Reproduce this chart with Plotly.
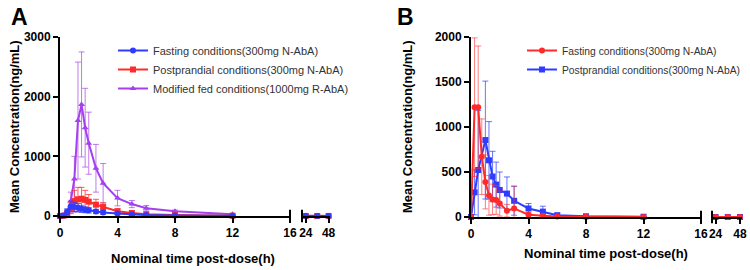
import plotly.graph_objects as go

# ---------------- data ----------------
# Panel A
tA = [0, 0.25, 0.5, 0.75, 1, 1.25, 1.5, 1.75, 2, 2.5, 3, 4, 5, 6, 8, 12, 24, 36, 48]
fastA_mean = [0, 10, 70, 160, 150, 140, 120, 105, 95, 75, 60, 40, 25, 15, 8, 3, 1, 1, 1]
fastA_sd   = [0, 10, 50, 90, 80, 70, 60, 50, 45, 35, 30, 20, 15, 10, 5, 2, 1, 1, 1]
postA_mean = [0, 5, 40, 130, 250, 280, 290, 270, 240, 190, 150, 80, 50, 30, 15, 5, 1, 1, 1]
postA_sd   = [0, 5, 40, 90, 180, 200, 190, 160, 120, 90, 70, 40, 25, 15, 8, 3, 1, 1, 1]
modA_mean  = [0, 10, 60, 250, 620, 1600, 1870, 1480, 1220, 800, 550, 300, 200, 130, 80, 30, 5, 2, 1]
modA_sd    = [0, 10, 50, 150, 380, 980, 880, 660, 520, 400, 330, 130, 60, 45, 20, 10, 3, 1, 1]

# Panel B
tB_red = [0, 0.25, 0.5, 0.75, 1, 1.25, 1.5, 1.75, 2, 2.5, 3, 4, 5, 6, 8, 12, 24, 36, 48]
fastB_mean = [0, 1220, 1220, 670, 390, 240, 195, 190, 150, 70, 95, 25, 15, 5, 3, 1, 0, 0, 0]
fastB_sd   = [0, 770, 680, 420, 300, 220, 170, 160, 140, 70, 250, 30, 20, 8, 3, 1, 0, 0, 0]
tB_blue = [0, 0.25, 0.5, 1, 1.25, 1.5, 1.75, 2, 2.5, 3, 4, 5, 6, 8, 12, 24, 36, 48]
postB_mean = [0, 274, 522, 855, 630, 450, 360, 300, 260, 180, 95, 60, 20, 8, 3, 0, 0, 0]
postB_sd   = [0, 250, 660, 655, 430, 280, 250, 200, 185, 160, 55, 60, 20, 8, 3, 0, 0, 0]

yticksA = [0, 1000, 2000, 3000]
yticksB = [0, 500, 1000, 1500, 2000]
xticks1 = [0, 4, 8, 12, 16]
xticks2 = [24, 48]

BLUE = "#2f3cff"
RED = "#ff2a2a"
PURPLE = "#a63ff0"

W, H = 750, 270
def px(x):
    return x / W
def py(y):
    return 1 - y / H

fig = go.Figure()

def add_series(t, m, s, color, err_color, symbol, name, xa, xb, ya, legend):
    lo = [(ti, mi, si) for ti, mi, si in zip(t, m, s) if ti <= 16]
    hi = [(ti, mi, si) for ti, mi, si in zip(t, m, s) if ti > 16]
    for part, xaxis, show in ((lo, xa, True), (hi, xb, False)):
        fig.add_trace(go.Scatter(
            x=[p[0] for p in part], y=[p[1] for p in part],
            xaxis=xaxis, yaxis=ya, mode="lines+markers", name=name,
            legend=legend, showlegend=show, legendgroup=name,
            line=dict(color=color, width=2),
            marker=dict(color=color, symbol=symbol, size=6),
            error_y=dict(type="data", array=[p[2] for p in part], visible=True,
                         color=err_color, thickness=1, width=3),
            cliponaxis=False,
        ))

add_series(tA, modA_mean, modA_sd, PURPLE, "rgba(170,80,230,0.75)", "triangle-up",
           "Modified fed conditions(1000mg R-AbA)", "x", "x2", "y", "legend")
add_series(tA, postA_mean, postA_sd, RED, "rgba(255,40,40,0.75)", "square",
           "Postprandial conditions(300mg N-AbA)", "x", "x2", "y", "legend")
add_series(tA, fastA_mean, fastA_sd, BLUE, "rgba(40,60,255,0.75)", "circle",
           "Fasting conditions(300mg N-AbA)", "x", "x2", "y", "legend")

add_series(tB_blue, postB_mean, postB_sd, BLUE, "rgba(40,60,255,0.7)", "square",
           "Postprandial conditions(300mg N-AbA)", "x3", "x4", "y2", "legend2")
add_series(tB_red, fastB_mean, fastB_sd, RED, "rgba(255,40,40,0.6)", "circle",
           "Fasting conditions(300mg N-AbA)", "x3", "x4", "y2", "legend2")

tickfont = dict(family="Liberation Sans, Arial, sans-serif", size=12, color="black",
                weight="bold")
axis_common = dict(showline=True, linecolor="black", linewidth=2, ticks="outside",
                   ticklen=5, tickwidth=2, tickcolor="black", showgrid=False,
                   zeroline=False, tickfont=tickfont, automargin=False)

fig.update_layout(
    width=W, height=H, margin=dict(l=0, r=0, t=0, b=0, autoexpand=False),
    paper_bgcolor="white", plot_bgcolor="white",
    font=dict(family="Liberation Sans, Arial, sans-serif"),
    xaxis=dict(domain=[px(60), px(290)], range=[0, 16], tickvals=xticks1,
               ticktext=[str(v) for v in xticks1], anchor="y", **axis_common),
    xaxis2=dict(domain=[px(302), px(330)], range=[20, 49.5], tickvals=xticks2,
                ticktext=[str(v) for v in xticks2], anchor="y", **axis_common),
    yaxis=dict(domain=[py(216), py(37)], range=[0, 3000], tickvals=yticksA,
               ticktext=[str(v) for v in yticksA], anchor="x", **axis_common),
    xaxis3=dict(domain=[px(471), px(701)], range=[0, 16], tickvals=xticks1,
                ticktext=[str(v) for v in xticks1], anchor="y2", **axis_common),
    xaxis4=dict(domain=[px(712), px(742)], range=[20.5, 50], tickvals=xticks2,
                ticktext=[str(v) for v in xticks2], anchor="y2", **axis_common),
    yaxis2=dict(domain=[py(217), py(37)], range=[0, 2000], tickvals=yticksB,
                ticktext=[str(v) for v in yticksB], anchor="x3", **axis_common),
    legend=dict(x=px(113), y=py(36), xanchor="left", yanchor="top",
                traceorder="reversed", bgcolor="rgba(0,0,0,0)",
                font=dict(size=11, color="#333333"), itemwidth=30),
    legend2=dict(x=px(522), y=py(36), xanchor="left", yanchor="top",
                 traceorder="reversed", bgcolor="rgba(0,0,0,0)",
                 font=dict(size=10.3, color="#333333"), itemwidth=30),
)

# axis break marks
for xa, ya, xv in (("x", "y", 1), ("x2", "y", 0), ("x3", "y2", 1), ("x4", "y2", 0)):
    fig.add_shape(type="line", xref=f"{xa} domain", yref=f"{ya} domain",
                  x0=xv, x1=xv, y0=-0.035, y1=0.035,
                  line=dict(color="black", width=2))

title_font = dict(family="Liberation Sans, Arial, sans-serif", size=13, color="black")
ann = [
    dict(x=px(19), y=py(17), text="<b>A</b>", font=dict(size=23, color="black")),
    dict(x=px(405), y=py(17), text="<b>B</b>", font=dict(size=23, color="black")),
    dict(x=px(193), y=py(258), text="<b>Nominal time post-dose(h)</b>", font=title_font),
    dict(x=px(606), y=py(253), text="<b>Nominal time post-dose(h)</b>", font=title_font),
    dict(x=px(15), y=py(127), text="<b>Mean Concentration(ng/mL)</b>", font=title_font, textangle=-90),
    dict(x=px(408), y=py(127), text="<b>Mean Concentration(ng/mL)</b>", font=title_font, textangle=-90),
]
for a in ann:
    fig.add_annotation(xref="paper", yref="paper", showarrow=False,
                       xanchor="center", yanchor="middle", **a)

fig.write_html("out.html", config={"displayModeBar": False},
               post_script="document.body.style.margin='0';")
